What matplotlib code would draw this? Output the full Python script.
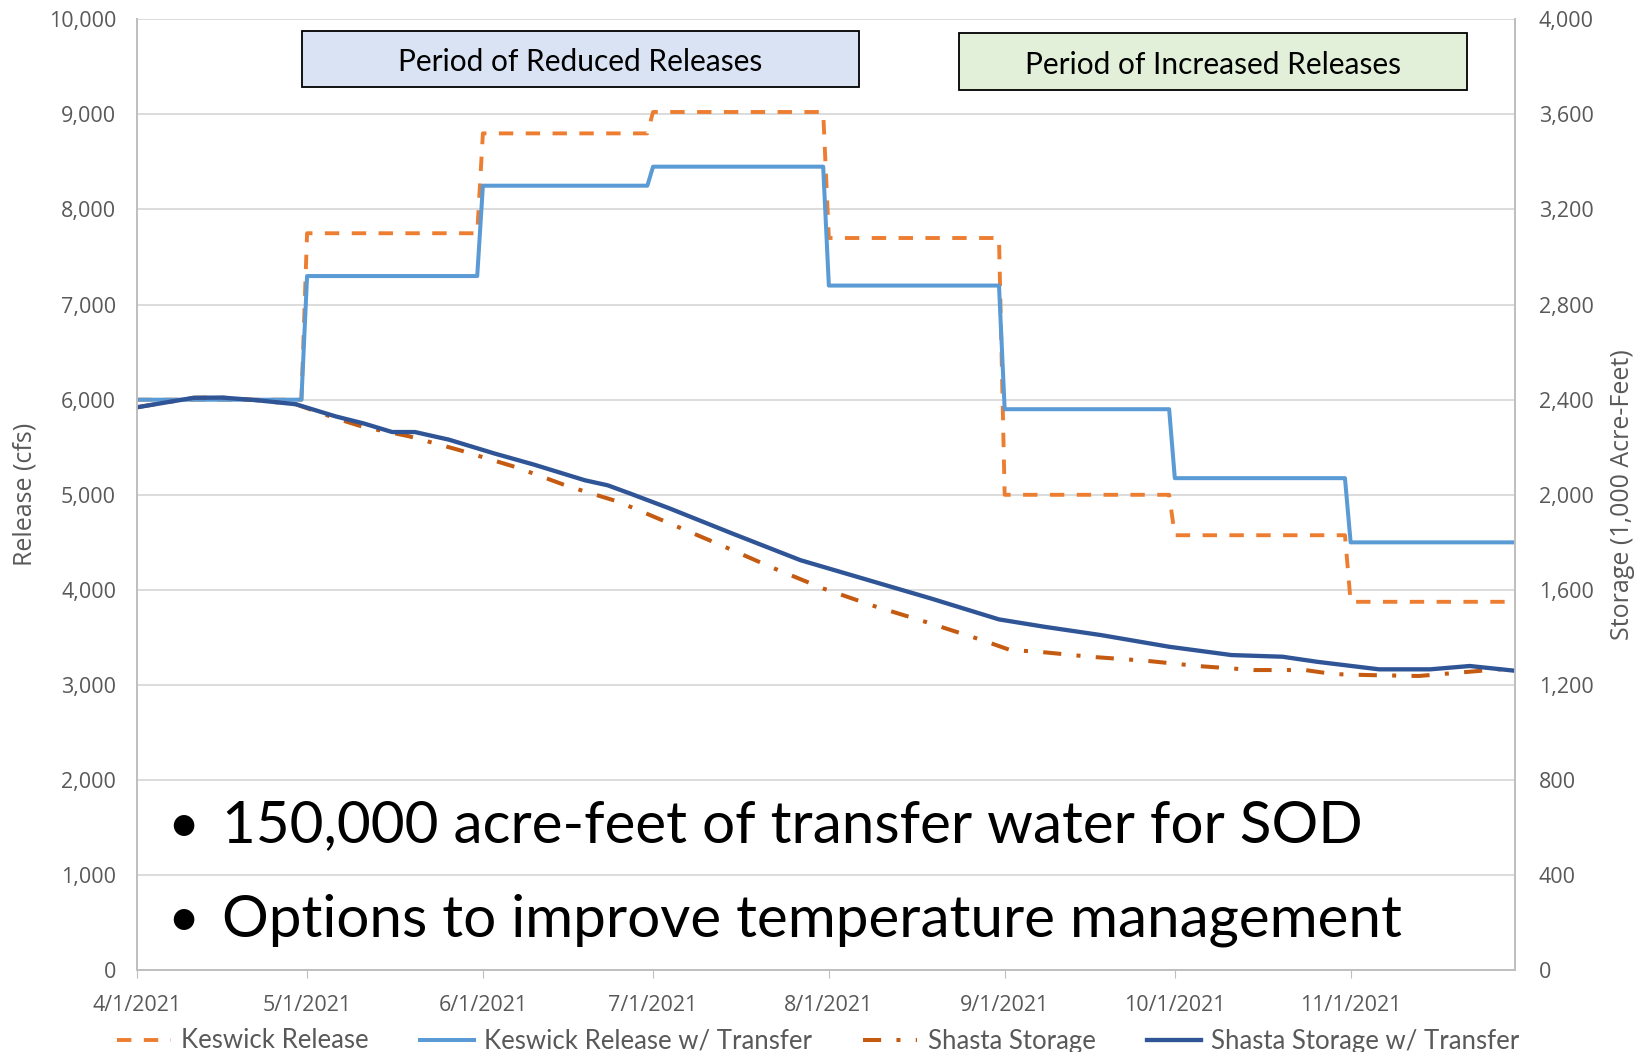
#!/usr/bin/env python3
"""
Keswick release and Shasta storage, with and without transfer water (Apr-Nov 2021)
"""

import pandas as pd
import matplotlib
matplotlib.use('Agg')
import matplotlib.pyplot as plt
from matplotlib.patches import Rectangle
from matplotlib.ticker import FuncFormatter

# release schedule, one value per month (cfs)
month_starts = ['2021-04-01', '2021-05-01', '2021-06-01', '2021-07-01',
                '2021-08-01', '2021-09-01', '2021-10-01', '2021-11-01']
last_day = '2021-11-30'
keswick_release = [6000, 7750, 8800, 9025, 7700, 5000, 4575, 3875]
keswick_transfer = [6000, 7300, 8250, 8450, 7200, 5900, 5175, 4500]

# storage (1,000 acre-feet)
storage_transfer_dates = ['2021-04-01', '2021-04-05', '2021-04-11', '2021-04-16', '2021-04-22',
                          '2021-04-29', '2021-05-06', '2021-05-11', '2021-05-16', '2021-05-20',
                          '2021-05-26', '2021-06-03', '2021-06-10', '2021-06-19', '2021-06-23',
                          '2021-06-27', '2021-07-04', '2021-07-15', '2021-07-27', '2021-08-08',
                          '2021-08-19', '2021-08-31', '2021-09-08', '2021-09-18', '2021-09-30',
                          '2021-10-11', '2021-10-20', '2021-10-26', '2021-11-06', '2021-11-15',
                          '2021-11-22', '2021-11-30']
storage_transfer = [2368, 2384, 2408, 2409, 2398,
                    2381, 2330, 2300, 2264, 2264,
                    2232, 2174, 2127, 2061, 2040,
                    2005, 1942, 1837, 1725, 1641,
                    1564, 1476, 1445, 1410, 1361,
                    1326, 1319, 1298, 1266, 1266,
                    1280, 1260]

storage_dates = ['2021-04-01', '2021-04-05', '2021-04-11', '2021-04-16', '2021-04-22',
                 '2021-04-29', '2021-05-06', '2021-05-11', '2021-05-19', '2021-05-28',
                 '2021-06-07', '2021-06-16', '2021-06-25', '2021-07-04', '2021-07-13',
                 '2021-07-22', '2021-07-31', '2021-08-09', '2021-08-18', '2021-08-28',
                 '2021-09-02', '2021-09-07', '2021-09-16', '2021-09-26', '2021-10-05',
                 '2021-10-15', '2021-10-24', '2021-10-29', '2021-11-04', '2021-11-13',
                 '2021-11-22', '2021-11-27', '2021-11-30']
storage = [2368, 2384, 2408, 2409, 2398,
           2381, 2322, 2285, 2246, 2187,
           2115, 2036, 1970, 1879, 1788,
           1694, 1606, 1532, 1466, 1389,
           1347, 1340, 1319, 1302, 1280,
           1263, 1263, 1246, 1242, 1238,
           1256, 1266, 1262]

tick_labels = ['4/1/2021', '5/1/2021', '6/1/2021', '7/1/2021',
               '8/1/2021', '9/1/2021', '10/1/2021', '11/1/2021']
bullets = ['150,000 acre-feet of transfer water for SOD',
           'Options to improve temperature management']


def step_points(starts, end, values):
    """Hold each monthly value from its first to its last day."""
    starts = pd.to_datetime(starts)
    ends = list(starts[1:] - pd.Timedelta(days=1)) + [pd.Timestamp(end)]
    xs, ys = [], []
    for s, e, v in zip(starts, ends, values):
        xs += [s, e]
        ys += [v, v]
    return xs, ys


def main():
    plt.rcParams['font.family'] = ['Open Sans', 'DejaVu Sans']
    gray = '#595959'
    grid = '#D9D9D9'

    fig = plt.figure(figsize=(16.36, 10.52), dpi=100)
    ax1 = fig.add_axes([0.0837, 0.0776, 0.8424, 0.9041])
    ax2 = ax1.twinx()

    x_k, y_k = step_points(month_starts, last_day, keswick_release)
    x_t, y_t = step_points(month_starts, last_day, keswick_transfer)

    l1, = ax1.plot(x_k, y_k, color='#ED7D31', lw=2.8, ls=(0, (3.7, 3.2)),
                   label='Keswick Release')
    l2, = ax1.plot(x_t, y_t, color='#5B9BD5', lw=2.9, label='Keswick Release w/ Transfer')
    l3, = ax2.plot(pd.to_datetime(storage_dates), storage, color='#C55A11', lw=2.9,
                   ls=(0, (4.5, 3.8, 1, 3.8)), label='Shasta Storage')
    l4, = ax2.plot(pd.to_datetime(storage_transfer_dates), storage_transfer, color='#2F5597',
                   lw=3.1, label='Shasta Storage w/ Transfer')

    ax1.set_xlim(pd.Timestamp(month_starts[0]), pd.Timestamp(last_day))
    ax1.set_ylim(0, 10000)
    ax2.set_ylim(0, 4000)
    ax1.set_yticks(range(0, 10001, 1000))
    ax2.set_yticks(range(0, 4001, 400))
    fmt = FuncFormatter(lambda v, p: f'{int(v):,}')
    ax1.yaxis.set_major_formatter(fmt)
    ax2.yaxis.set_major_formatter(fmt)
    ax1.set_xticks(pd.to_datetime(month_starts))
    ax1.set_xticklabels(tick_labels)

    ax1.grid(axis='y', color=grid, lw=1.3)
    ax1.set_axisbelow(True)
    for ax in (ax1, ax2):
        for side in ('left', 'right', 'bottom'):
            ax.spines[side].set_color('#BFBFBF')
            ax.spines[side].set_linewidth(1.3)
        ax.spines['top'].set_visible(False)
    ax1.tick_params(axis='y', length=0, pad=15, labelsize=15.5, labelcolor=gray)
    ax2.tick_params(axis='y', length=0, pad=17, labelsize=15.5, labelcolor=gray)
    ax1.tick_params(axis='x', length=6, color='#BFBFBF', pad=12, labelsize=15.5, labelcolor=gray)

    ax1.set_ylabel('Release (cfs)', fontsize=18, color=gray, labelpad=8)
    ax2.set_ylabel('Storage (1,000 Acre-Feet)', fontsize=18, color=gray, labelpad=12)

    # period boxes
    W, H = 1636.0, 1052.0
    boxes = [(301.5, 31.3, 858.7, 86.6, '#DAE3F3', 'Period of Reduced Releases'),
             (959.0, 33.4, 1467.0, 89.7, '#E2F0D9', 'Period of Increased Releases')]
    for x0, y0, x1, y1, fc, txt in boxes:
        fig.patches.append(Rectangle((x0 / W, 1 - y1 / H), (x1 - x0) / W, (y1 - y0) / H,
                                     transform=fig.transFigure, facecolor=fc,
                                     edgecolor='black', lw=1.3, zorder=5))
        fig.text((x0 + x1) / 2 / W, 1 - ((y0 + y1) / 2 + 3) / H, txt, ha='center', va='center',
                 fontsize=21.5, family=['Lato', 'DejaVu Sans'], zorder=6)

    # bullet text
    for yc, txt in zip([826, 920], bullets):
        fig.text(183 / W, 1 - yc / H, '\u2022', ha='center', va='center', fontsize=40,
                 family=['Lato', 'DejaVu Sans'])
        fig.text(222 / W, 1 - yc / H, txt, ha='left', va='center', fontsize=42,
                 family=['Lato', 'DejaVu Sans'])

    fig.legend(handles=[l1, l2, l3, l4], loc='center', bbox_to_anchor=(0.5, 1 - 1041 / H),
               ncol=4, frameon=False, labelcolor=gray, handlelength=2.1,
               columnspacing=2.0, handletextpad=0.4, prop={'family': 'Lato', 'size': 18.5})

    fig.savefig('out.png', dpi=100)


main()
